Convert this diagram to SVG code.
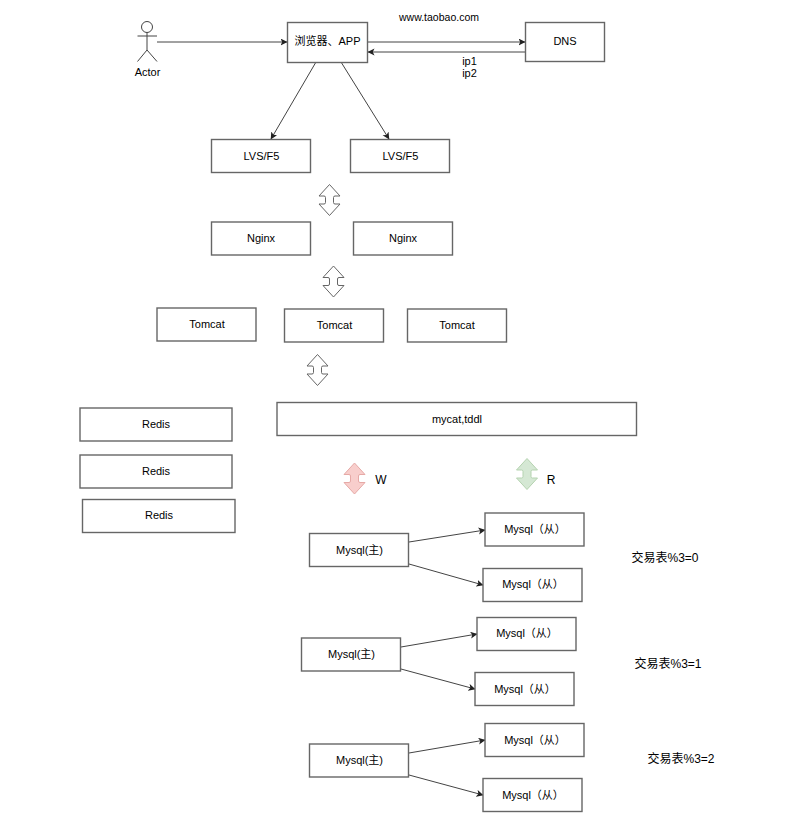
<svg xmlns="http://www.w3.org/2000/svg" width="810" height="816" viewBox="0 0 810 816">
<style>
text{font-family:"Liberation Sans","Noto Sans CJK SC",sans-serif;font-size:11px;fill:#000;text-anchor:middle}
.n{fill:#fff;stroke:#666;stroke-width:1.4}
.l{fill:none;stroke:#444;stroke-width:1}
.big{font-size:12px}
.www{font-size:10.500px}
.g{fill:#fff;stroke:#666}
.r{fill:#f8cecc;stroke:#e6a9a6}
.gr{fill:#d5e8d4;stroke:#b5d3b0}
</style>
<defs>
<marker id="m" markerWidth="8" markerHeight="8" refX="6.5" refY="3.5" orient="auto" markerUnits="userSpaceOnUse"><path d="M0 0L7 3.5L0 7L1.700 3.500Z" fill="#222"/></marker>
<path id="d" d="M0 0L10.500 11.500L5.500 11.500Q4 11.500 4 13L4 18Q4 19.500 5.500 19.500L10.500 19.500L0 31L-10.500 19.500L-5.500 19.500Q-4 19.500 -4 18L-4 13Q-4 11.500 -5.500 11.500L-10.500 11.500Z"/>
</defs>
<g id="connectors">
<path class="l" marker-end="url(#m)" d="M157 42H287"/>
<path class="l" marker-end="url(#m)" d="M368 42H525"/>
<path class="l" marker-end="url(#m)" d="M525 52H368"/>
<path class="l" marker-end="url(#m)" d="M316 62L271 139"/>
<path class="l" marker-end="url(#m)" d="M341 62L389 139"/>
<path class="l" marker-end="url(#m)" d="M409 542L485 530"/>
<path class="l" marker-end="url(#m)" d="M409 564L483 585"/>
<path class="l" marker-end="url(#m)" d="M401 647L477 634"/>
<path class="l" marker-end="url(#m)" d="M401 669L475 689"/>
<path class="l" marker-end="url(#m)" d="M409 753L485 740"/>
<path class="l" marker-end="url(#m)" d="M409 775L483 795"/>
</g>
<g id="actor" fill="none" stroke="#444">
<circle cx="147" cy="27" r="5.500" fill="#fff"/>
<path d="M147 32.500V50M137.500 36H157M147 50L137.500 61.500M147 50L157 61.500"/>
<text x="147.500" y="76" stroke="none">Actor</text>
</g>
<g id="browser"><rect class="n" x="287.500" y="22.500" width="80" height="40"/><text x="327.500" y="45">浏览器、APP</text></g>
<g id="dns"><rect class="n" x="525.500" y="22.500" width="79" height="39"/><text x="565" y="45">DNS</text></g>
<g id="labels">
<text x="439" y="21" class="www">www.taobao.com</text>
<text x="469.500" y="65">ip1</text>
<text x="469.500" y="77">ip2</text>
<text x="381" y="484" class="big">W</text>
<text x="551" y="484" class="big">R</text>
<text x="665" y="562" class="big">交易表%3=0</text>
<text x="668" y="668" class="big">交易表%3=1</text>
<text x="681" y="763" class="big">交易表%3=2</text>
</g>
<g id="lvs1"><rect class="n" x="211.500" y="139.500" width="99" height="33"/><text x="261.500" y="160">LVS/F5</text></g>
<g id="lvs2"><rect class="n" x="350.500" y="139.500" width="99" height="33"/><text x="400.500" y="160">LVS/F5</text></g>
<g id="nginx1"><rect class="n" x="211.500" y="222" width="99" height="33"/><text x="261" y="242">Nginx</text></g>
<g id="nginx2"><rect class="n" x="353.500" y="222" width="99" height="33"/><text x="403" y="242">Nginx</text></g>
<g id="tomcat1"><rect class="n" x="157" y="308" width="99" height="33"/><text x="207" y="328">Tomcat</text></g>
<g id="tomcat2"><rect class="n" x="284.500" y="309" width="99" height="33"/><text x="334.500" y="329">Tomcat</text></g>
<g id="tomcat3"><rect class="n" x="407.500" y="309" width="99" height="33"/><text x="457" y="329">Tomcat</text></g>
<g id="redis1"><rect class="n" x="80" y="408" width="152" height="33"/><text x="156" y="428">Redis</text></g>
<g id="redis2"><rect class="n" x="80" y="455" width="152" height="33"/><text x="156" y="475">Redis</text></g>
<g id="redis3"><rect class="n" x="82.500" y="499.500" width="152.500" height="33"/><text x="159" y="519">Redis</text></g>
<g id="mycat"><rect class="n" x="277" y="402.500" width="359.500" height="33"/><text x="457" y="423">mycat,tddl</text></g>
<g id="arrow1"><use href="#d" class="g" x="329.500" y="184.500"/></g>
<g id="arrow2"><use href="#d" class="g" x="333.500" y="266"/></g>
<g id="arrow3"><use href="#d" class="g" x="317.500" y="354.500"/></g>
<g id="arrowW"><use href="#d" class="r" x="354.500" y="463"/></g>
<g id="arrowR"><use href="#d" class="gr" x="527" y="458.500"/></g>
<g id="m1"><rect class="n" x="309.500" y="533.500" width="99" height="33"/><text x="359.500" y="554">Mysql(主)</text></g>
<g id="s11"><rect class="n" x="485" y="513" width="99" height="33"/><text x="535" y="533">Mysql（从）</text></g>
<g id="s12"><rect class="n" x="483" y="568.500" width="99" height="33"/><text x="533" y="588">Mysql（从）</text></g>
<g id="m2"><rect class="n" x="301.500" y="638" width="99" height="33"/><text x="351.500" y="658">Mysql(主)</text></g>
<g id="s21"><rect class="n" x="477" y="617.500" width="99" height="33"/><text x="527" y="637">Mysql（从）</text></g>
<g id="s22"><rect class="n" x="475" y="672.500" width="99" height="33"/><text x="525" y="693">Mysql（从）</text></g>
<g id="m3"><rect class="n" x="309.500" y="744" width="99" height="33"/><text x="359.500" y="764">Mysql(主)</text></g>
<g id="s31"><rect class="n" x="485" y="723.500" width="99" height="33"/><text x="535" y="744">Mysql（从）</text></g>
<g id="s32"><rect class="n" x="483" y="778.500" width="99" height="33"/><text x="533" y="799">Mysql（从）</text></g>
</svg>
